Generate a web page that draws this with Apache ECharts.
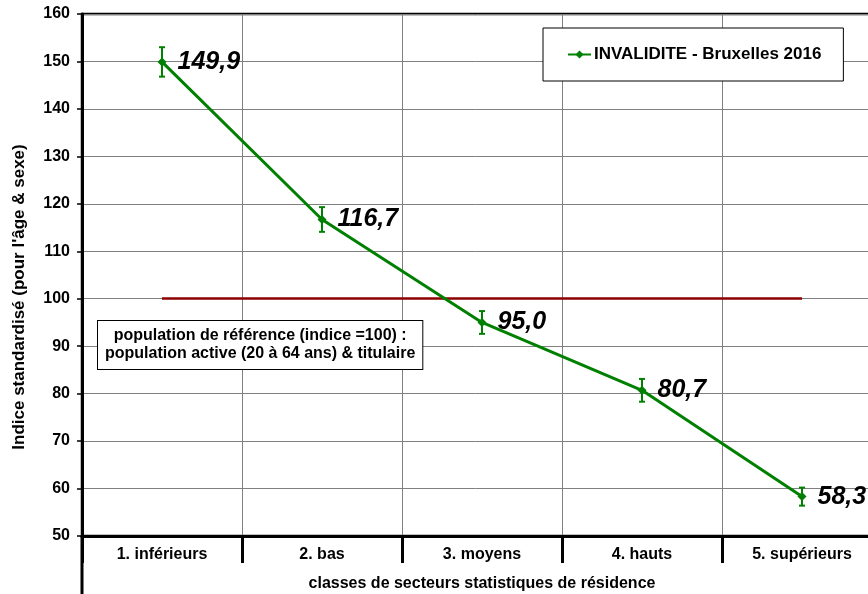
<!DOCTYPE html>
<html>
<head>
<meta charset="utf-8">
<script src="https://cdn.jsdelivr.net/npm/echarts@6/dist/echarts.min.js"></script>
<style>html,body{margin:0;padding:0;background:#fff}#c{width:868px;height:594px}</style>
</head>
<body>
<div id="c"></div>
<script>
const categories = ['1. inférieurs', '2. bas', '3. moyens', '4. hauts', '5. supérieurs'];
const values = [149.9, 116.7, 95.0, 80.7, 58.3];
const lower = [146.8, 114.1, 92.6, 78.3, 56.4];
const upper = [153.0, 119.3, 97.4, 83.1, 60.2];
const referenceValue = 100;
const yTicks = { min: 50, max: 160, interval: 10 };
const seriesName = 'INVALIDITE - Bruxelles 2016';
const yTitle = "Indice standardisé (pour l'âge & sexe)";
const xTitle = 'classes de secteurs statistiques de résidence';
const noteText = 'population de référence (indice =100) :\npopulation active (20 à 64 ans) & titulaire';

const FONT = 'Arial, "Liberation Sans", sans-serif';
const chart = echarts.init(document.getElementById('c'), null, { renderer: 'canvas' });

chart.setOption({
  animation: false,
  backgroundColor: '#fff',
  grid: { left: 82, top: 14, width: 800, height: 522, containLabel: false, outerBoundsMode: 'none',
          show: true, borderColor: '#000', borderWidth: 2.5, backgroundColor: 'transparent' },
  legend: {
    left: 543, top: 28,
    data: [seriesName],
    backgroundColor: '#fff', borderColor: '#000', borderWidth: 1,
    padding: [18, 22, 18, 24],
    itemWidth: 23, itemHeight: 10, itemGap: 4,
    textStyle: { fontFamily: FONT, fontWeight: 'bold', fontSize: 17, color: '#000', padding: [0, 0, 0, -2] }
  },
  xAxis: {
    type: 'category', data: categories, boundaryGap: true,
    axisLine: { lineStyle: { color: '#000', width: 3 } },
    axisTick: { show: true, interval: 0, length: 27, lineStyle: { color: '#000', width: 3 } },
    splitLine: { show: true, interval: 0, lineStyle: { color: '#808080', width: 1 } },
    axisLabel: { interval: 0, margin: 11, fontFamily: FONT, fontWeight: 'bold', fontSize: 16, color: '#000' },
    name: xTitle, nameLocation: 'middle', nameGap: 40,
    nameTextStyle: { fontFamily: FONT, fontWeight: 'bold', fontSize: 16, color: '#000' }
  },
  yAxis: {
    type: 'value', min: yTicks.min, max: yTicks.max, interval: yTicks.interval,
    axisLine: { show: true, lineStyle: { color: '#000', width: 3 } },
    axisTick: { show: true, length: 5, lineStyle: { color: '#000', width: 1.5 } },
    splitLine: { show: true, lineStyle: { color: '#808080', width: 1 } },
    axisLabel: { margin: 12, fontFamily: FONT, fontWeight: 'bold', fontSize: 16, color: '#000' },
    name: yTitle, nameLocation: 'middle', nameGap: 54, nameRotate: 90,
    nameTextStyle: { fontFamily: FONT, fontWeight: 'bold', fontSize: 17, color: '#000', padding: [0, 44, 0, 0] }
  },
  series: [
    {
      name: seriesName, type: 'line', data: values,
      lineStyle: { color: '#008000', width: 3 },
      itemStyle: { color: '#008000' },
      symbol: 'diamond', symbolSize: 9,
      z: 5,
      label: {
        show: true, position: 'right', distance: 11,
        formatter: p => p.value.toFixed(1).replace('.', ','),
        fontFamily: FONT, fontWeight: 'bold', fontStyle: 'italic', fontSize: 25, color: '#000'
      },
      markLine: {
        silent: true, symbol: 'none', label: { show: false },
        lineStyle: { color: '#8B0000', width: 2.5, type: 'solid' },
        data: [[{ xAxis: 0, yAxis: referenceValue }, { xAxis: categories.length - 1, yAxis: referenceValue }]],
        z: 2
      }
    },
    {
      name: 'err', type: 'custom', z: 6,
      data: categories.map((c, i) => [i, lower[i], upper[i]]),
      encode: { x: 0, y: [1, 2] },
      renderItem: function (params, api) {
        const x = api.value(0);
        const lo = api.coord([x, api.value(1)]);
        const hi = api.coord([x, api.value(2)]);
        const hw = 3;
        const st = { stroke: '#008000', lineWidth: 2 };
        return {
          type: 'group',
          children: [
            { type: 'line', shape: { x1: lo[0], y1: lo[1], x2: hi[0], y2: hi[1] }, style: st },
            { type: 'line', shape: { x1: lo[0] - hw, y1: lo[1], x2: lo[0] + hw, y2: lo[1] }, style: st },
            { type: 'line', shape: { x1: hi[0] - hw, y1: hi[1], x2: hi[0] + hw, y2: hi[1] }, style: st }
          ]
        };
      }
    }
  ],
  graphic: [
    { type: 'line', shape: { x1: 82, y1: 536, x2: 82, y2: 594 }, style: { stroke: '#000', lineWidth: 3 }, z: 10 },
    {
      type: 'text', left: 97, top: 320, z: 10,
      style: {
        text: noteText, font: 'bold 16px ' + FONT, fill: '#000', align: 'center', textAlign: 'center', lineHeight: 18,
        backgroundColor: '#fff', borderColor: '#000', borderWidth: 1, padding: [6, 7, 6, 7]
      }
    }
  ]
});
</script>
</body>
</html>
